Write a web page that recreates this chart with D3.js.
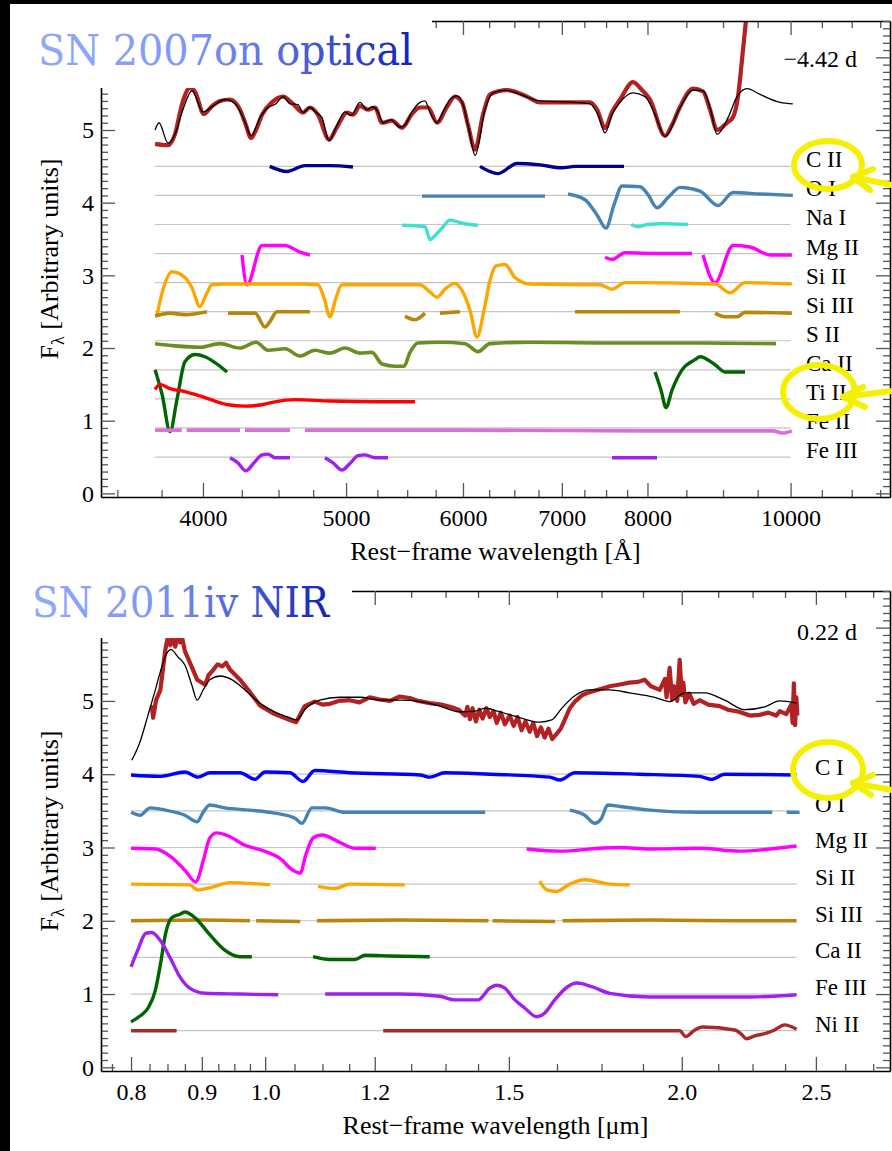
<!DOCTYPE html>
<html><head><meta charset="utf-8">
<script src="https://cdn.jsdelivr.net/npm/d3@7"></script>
<style>body{margin:0;background:#000}svg{display:block}</style>
</head><body>
<svg id="c" width="892" height="1151"></svg>
<script>
// ---------------- DATA: optical panel (SN 2007on) ----------------
const optXTicks = [4000,5000,6000,7000,8000,10000];
const optXLabels = ["4000","5000","6000","7000","8000","10000"];
const optXMinor = [3500,3750,4250,4500,4750,5250,5500,5750,6250,6500,6750,7250,7500,7750,8500,9000,9500,10500,11000,11500];
const yTicks = [0,1,2,3,4,5,6];
const yLabels = ["0","1","2","3","4","5",""];
const optIons = ["C II","O I","Na I","Mg II","Si II","Si III","S II","Ca II","Ti II","Fe II","Fe III"];
const optBase = [4.5,4.1,3.7,3.3,2.9,2.5,2.1,1.7,1.3,0.9,0.5];
const optObs = [[3712,4.81],[3788,4.79],[3829,4.94],[3871,5.35],[3920,5.58],[3950,5.53],[4006,5.22],[4057,5.33],[4107,5.40],[4172,5.42],[4238,5.28],[4277,5.07],[4311,4.89],[4345,5.00],[4386,5.21],[4454,5.38],[4532,5.46],[4603,5.36],[4675,5.24],[4726,5.31],[4786,5.21],[4869,4.87],[4930,5.04],[5007,5.24],[5054,5.21],[5110,5.33],[5174,5.28],[5231,5.31],[5288,5.10],[5371,5.13],[5456,5.03],[5541,5.22],[5611,5.31],[5682,5.31],[5762,5.10],[5852,5.32],[5926,5.46],[5991,5.38],[6047,5.07],[6114,4.73],[6190,5.21],[6258,5.49],[6426,5.55],[6630,5.46],[6766,5.38],[7123,5.38],[7314,5.38],[7395,5.28],[7488,5.03],[7570,5.25],[7665,5.42],[7822,5.66],[7932,5.55],[8032,5.42],[8222,4.92],[8312,5.07],[8417,5.32],[8589,5.57],[8724,5.53],[8820,5.28],[8917,5.00],[9057,5.10],[9142,5.18],[9213,5.46],[9271,5.97],[9329,6.52],[9373,6.93]];
const optModel = [[3712,5.00],[3735,5.10],[3788,4.82],[3829,4.94],[3877,5.28],[3932,5.54],[4000,5.25],[4076,5.35],[4140,5.42],[4205,5.36],[4271,5.11],[4311,4.92],[4372,5.17],[4427,5.31],[4482,5.36],[4532,5.46],[4581,5.36],[4639,5.35],[4675,5.24],[4726,5.31],[4771,5.24],[4816,5.17],[4869,4.85],[4930,5.07],[4992,5.25],[5038,5.20],[5110,5.38],[5166,5.28],[5206,5.32],[5255,5.25],[5296,5.10],[5363,5.14],[5439,5.04],[5481,5.07],[5541,5.25],[5611,5.38],[5655,5.40],[5699,5.24],[5762,5.10],[5816,5.25],[5880,5.42],[5944,5.47],[6000,5.35],[6057,5.00],[6114,4.65],[6210,5.28],[6288,5.51],[6406,5.55],[6558,5.49],[6766,5.40],[7145,5.38],[7314,5.36],[7406,5.21],[7488,4.96],[7570,5.21],[7665,5.38],[7822,5.51],[7970,5.46],[8095,5.21],[8222,4.91],[8417,5.31],[8589,5.55],[8724,5.54],[8820,5.31],[8917,4.94],[9071,5.17],[9199,5.46],[9344,5.57],[9535,5.49],[9837,5.38],[10035,5.36]];
const optCII = [[[4439,4.50],[4560,4.43],[4690,4.51],[4876,4.51],[5054,4.49]],[[6161,4.50],[6337,4.40],[6527,4.54],[6766,4.52],[7000,4.48],[7145,4.50],[7713,4.50]]];
const optOI = [[[5629,4.09],[6819,4.09]],[[7068,4.12],[7258,4.04],[7395,3.83],[7499,3.65],[7593,3.97],[7689,4.23],[7908,4.22],[8007,4.11],[8120,3.93],[8261,4.07],[8417,4.21],[8683,4.16],[8931,3.96],[9142,4.14],[9535,4.12],[10035,4.10]]];
const optNaI = [[[5456,3.69],[5655,3.67],[5699,3.49],[5726,3.52],[5807,3.65],[5880,3.76],[5944,3.74],[6019,3.71],[6142,3.69]],[[7800,3.70],[7880,3.67],[8000,3.70],[8200,3.71],[8520,3.70]]];
const optMgII = [[[4251,3.28],[4284,2.87],[4386,3.41],[4439,3.41],[4546,3.41],[4653,3.32],[4726,3.28]],[[7488,3.25],[7570,3.22],[7725,3.31],[8158,3.30],[8576,3.30]],[[8724,3.28],[8889,2.90],[9142,3.41],[9387,3.39],[9685,3.28],[10020,3.28]]];
const optSiII = [[[3724,2.46],[3758,2.80],[3811,3.05],[3889,2.97],[3932,2.83],[3981,2.57],[4019,2.73],[4057,2.87],[4140,2.88],[4653,2.88],[4786,2.87],[4831,2.69],[4876,2.43],[4922,2.69],[4968,2.87],[5611,2.87],[5699,2.77],[5762,2.70],[5834,2.81],[5926,2.89],[5991,2.79],[6066,2.52],[6133,2.15],[6200,2.52],[6258,2.93],[6317,3.13],[6406,3.15],[6507,2.97],[6661,2.88],[7429,2.87],[7570,2.81],[7725,2.90],[8889,2.88],[9099,2.76],[9314,2.90],[10020,2.88]]];
const optSiIII = [[[3712,2.44],[3800,2.48],[3889,2.46],[4025,2.50]],[[4159,2.48],[4338,2.48],[4406,2.29],[4439,2.36],[4489,2.50],[4726,2.50]],[[5481,2.44],[5567,2.39],[5655,2.48]],[[5789,2.48],[5972,2.50]],[[7145,2.50],[8417,2.50]],[[8889,2.48],[9029,2.43],[9199,2.43],[9314,2.49],[10020,2.48]]];
const optSII = [[[3712,2.06],[3829,2.03],[3981,2.01],[4107,2.06],[4238,2.00],[4345,2.08],[4427,1.97],[4546,1.99],[4653,1.89],[4763,1.97],[4876,1.93],[4992,2.00],[5110,1.93],[5206,1.94],[5288,1.78],[5397,1.75],[5473,1.75],[5524,1.94],[5594,2.07],[5789,2.08],[6019,2.06],[6142,1.95],[6258,2.06],[6661,2.08],[7429,2.07],[8683,2.07],[9776,2.06]]];
const optCaII = [[[3712,1.70],[3753,1.36],[3800,0.85],[3841,1.29],[3889,1.81],[3950,1.91],[4012,1.88],[4076,1.80],[4153,1.67]],[[8095,1.67],[8171,1.42],[8235,1.18],[8312,1.42],[8443,1.70],[8616,1.84],[8683,1.88],[8889,1.77],[9029,1.67],[9314,1.67]]];
const optTiII = [[[3712,1.43],[3741,1.50],[3800,1.44],[3889,1.40],[3981,1.34],[4076,1.27],[4159,1.22],[4271,1.20],[4386,1.22],[4475,1.26],[4617,1.29],[4876,1.27],[5272,1.26],[5567,1.26]]];
const optFeII = [[[3712,0.87],[3870,0.87]],[[3900,0.87],[4238,0.87]],[[4271,0.87],[4581,0.87]],[[4690,0.87],[6000,0.87],[8000,0.86],[9730,0.86],[9880,0.83],[10020,0.86]]];
const optFeIII = [[[4172,0.49],[4224,0.42],[4277,0.31],[4331,0.42],[4386,0.53],[4427,0.54],[4475,0.49],[4581,0.49]],[[4838,0.49],[4899,0.42],[4968,0.32],[5030,0.41],[5094,0.52],[5150,0.53],[5231,0.49],[5338,0.49]],[[7570,0.49],[8120,0.49]]];

// ---------------- DATA: NIR panel (SN 2011iv) ----------------
const nirXTicks = [0.8,0.9,1.0,1.2,1.5,2.0,2.5];
const nirXLabels = ["0.8","0.9","1.0","1.2","1.5","2.0","2.5"];
const nirXMinor = [0.775,0.825,0.85,0.875,0.925,0.95,0.975,1.05,1.1,1.15,1.275,1.35,1.425,1.625,1.75,1.875,2.125,2.25,2.375,2.625,2.75];
const nirIons = ["C I","O I","Mg II","Si II","Si III","Ca II","Fe III","Ni II"];
const nirBase = [4.0,3.5,3.0,2.5,2.0,1.5,1.0,0.5];
const nirObs = [[0.828,4.94],[0.830,4.77],[0.834,5.01],[0.840,5.15],[0.847,5.70],[0.850,5.85],[0.854,5.76],[0.857,5.86],[0.861,5.74],[0.864,5.85],[0.868,5.80],[0.871,5.86],[0.875,5.68],[0.882,5.53],[0.893,5.29],[0.905,5.22],[0.910,5.35],[0.917,5.42],[0.924,5.50],[0.931,5.47],[0.937,5.52],[0.943,5.43],[0.959,5.29],[0.975,5.12],[0.991,4.94],[1.016,4.82],[1.042,4.74],[1.053,4.71],[1.068,4.93],[1.086,4.99],[1.100,4.95],[1.114,4.96],[1.130,5.00],[1.151,5.01],[1.170,4.98],[1.190,5.05],[1.210,5.02],[1.231,5.00],[1.250,5.06],[1.272,5.04],[1.290,5.00],[1.315,4.97],[1.340,4.95],[1.360,4.92],[1.380,4.88],[1.395,4.80],[1.400,4.92],[1.406,4.75],[1.412,4.90],[1.420,4.72],[1.428,4.88],[1.436,4.76],[1.445,4.90],[1.453,4.78],[1.462,4.86],[1.470,4.70],[1.480,4.84],[1.490,4.68],[1.502,4.80],[1.512,4.66],[1.522,4.78],[1.532,4.60],[1.542,4.72],[1.553,4.58],[1.562,4.70],[1.572,4.52],[1.582,4.64],[1.592,4.50],[1.602,4.62],[1.612,4.48],[1.624,4.55],[1.635,4.62],[1.646,4.74],[1.660,4.90],[1.674,4.99],[1.695,5.08],[1.716,5.12],[1.745,5.16],[1.774,5.20],[1.800,5.22],[1.834,5.25],[1.860,5.26],[1.880,5.29],[1.900,5.20],[1.928,5.15],[1.945,5.30],[1.950,5.05],[1.960,5.45],[1.968,5.02],[1.975,5.20],[1.985,5.00],[1.993,5.56],[2.000,5.08],[2.005,5.25],[2.012,4.98],[2.025,5.10],[2.040,4.96],[2.060,5.01],[2.090,4.95],[2.130,4.93],[2.160,4.88],[2.202,4.85],[2.240,4.80],[2.277,4.81],[2.310,4.84],[2.340,4.80],[2.354,4.86],[2.380,4.82],[2.400,4.95],[2.405,4.70],[2.410,5.24],[2.415,4.67],[2.420,5.05],[2.424,4.80]];
const nirModel = [[0.801,4.19],[0.812,4.44],[0.823,4.81],[0.833,5.15],[0.840,5.40],[0.848,5.63],[0.855,5.70],[0.865,5.60],[0.875,5.49],[0.885,5.22],[0.893,5.01],[0.902,5.15],[0.912,5.29],[0.928,5.34],[0.946,5.29],[0.967,5.15],[0.991,4.97],[1.016,4.85],[1.042,4.77],[1.054,4.74],[1.068,4.88],[1.095,5.01],[1.132,5.05],[1.171,5.05],[1.210,5.01],[1.251,5.01],[1.294,4.99],[1.337,4.93],[1.383,4.85],[1.418,4.86],[1.442,4.90],[1.478,4.85],[1.528,4.77],[1.579,4.71],[1.611,4.74],[1.638,4.90],[1.674,5.07],[1.716,5.15],[1.774,5.15],[1.834,5.11],[1.912,5.05],[1.960,4.99],[2.010,5.11],[2.078,5.11],[2.148,5.01],[2.221,4.88],[2.296,4.92],[2.354,5.00],[2.421,4.97]];
const nirCI = [[[0.800,3.99],[0.840,3.97],[0.875,4.03],[0.894,3.96],[0.912,4.02],[0.959,4.02],[0.983,3.93],[1.000,4.03],[1.042,4.02],[1.065,3.90],[1.086,4.05],[1.151,4.02],[1.294,3.99],[1.315,3.96],[1.348,4.02],[1.453,4.00],[1.606,3.96],[1.633,3.92],[1.674,4.02],[1.865,4.00],[2.060,3.97],[2.102,3.93],[2.148,4.00],[2.421,3.99]]];
const nirOI = [[[0.800,3.48],[0.812,3.44],[0.826,3.54],[0.847,3.51],[0.875,3.44],[0.893,3.35],[0.902,3.48],[0.912,3.58],[0.935,3.54],[0.975,3.51],[1.016,3.47],[1.051,3.40],[1.063,3.33],[1.081,3.54],[1.105,3.54],[1.142,3.48],[1.251,3.48],[1.442,3.48]],[[1.660,3.51],[1.702,3.44],[1.730,3.33],[1.750,3.40],[1.768,3.58],[1.804,3.56],[1.896,3.51],[2.060,3.48],[2.325,3.48]],[[2.381,3.48],[2.433,3.48]]];
const nirMgII = [[[0.800,2.99],[0.833,2.98],[0.854,2.88],[0.875,2.69],[0.891,2.53],[0.903,2.85],[0.912,3.13],[0.923,3.20],[0.940,3.16],[0.967,3.03],[0.995,2.96],[1.025,2.85],[1.047,2.69],[1.060,2.65],[1.070,2.90],[1.083,3.13],[1.099,3.17],[1.132,3.07],[1.161,2.99],[1.202,2.99]],[[1.545,2.98],[1.633,2.95],[1.745,2.99],[1.804,3.00],[1.896,2.98],[2.060,2.99],[2.202,2.95],[2.315,2.98],[2.421,3.02]]];
const nirSiII = [[[0.800,2.50],[0.882,2.49],[0.894,2.42],[0.916,2.46],[0.943,2.52],[1.008,2.49]],[[1.092,2.47],[1.123,2.44],[1.151,2.50],[1.261,2.49]],[[1.579,2.54],[1.598,2.42],[1.624,2.40],[1.660,2.50],[1.702,2.56],[1.774,2.50],[1.834,2.49]]];
const nirSiIII = [[[0.800,2.00],[0.900,2.01],[0.975,2.00]],[[0.985,2.00],[1.060,1.99]],[[1.090,2.00],[1.250,2.01],[1.450,2.00]],[[1.460,2.00],[1.620,1.99]],[[1.640,2.00],[1.900,2.01],[2.200,2.00],[2.421,2.00]]];
const nirCaII = [[[0.800,0.62],[0.812,0.70],[0.823,0.81],[0.833,1.05],[0.840,1.40],[0.847,1.81],[0.856,2.04],[0.868,2.09],[0.875,2.12],[0.890,2.04],[0.912,1.81],[0.935,1.60],[0.959,1.51],[0.978,1.51]],[[1.083,1.51],[1.114,1.47],[1.161,1.47],[1.181,1.53],[1.231,1.52],[1.315,1.51]]];
const nirFeIII = [[[0.800,1.37],[0.809,1.60],[0.820,1.83],[0.828,1.84],[0.840,1.73],[0.854,1.49],[0.868,1.23],[0.882,1.08],[0.905,1.01],[0.959,1.00],[1.022,0.99]],[[1.105,1.00],[1.251,1.00],[1.337,0.97],[1.371,0.92],[1.425,0.92],[1.453,1.08],[1.470,1.12],[1.490,1.08],[1.515,0.92],[1.540,0.81],[1.571,0.69],[1.592,0.74],[1.619,0.92],[1.654,1.10],[1.680,1.15],[1.722,1.10],[1.774,1.01],[1.896,0.96],[2.060,0.96],[2.239,0.96],[2.421,0.99]]];
const nirNiII = [[[0.800,0.50],[0.863,0.50]],[[1.217,0.50],[1.478,0.50],[1.745,0.50],[1.993,0.50],[2.013,0.42],[2.044,0.51],[2.071,0.55],[2.184,0.51],[2.209,0.45],[2.228,0.39],[2.258,0.43],[2.296,0.46],[2.334,0.51],[2.373,0.58],[2.421,0.52]]];

// ---------------- STYLES / LAYOUT ----------------
const ionColor = {"C II":"#00008b","C I":"#0000ff","O I":"#4682b4","Na I":"#40e0d0","Mg II":"#ff00ff","Si II":"#ffa500","Si III":"#b8860b","S II":"#6b8e23","Ca II":"#006400","Ti II":"#ff0000","Fe II":"#da70d6","Fe III":"#a020f0","Ni II":"#a52a2a"};
const SERIF = "'Liberation Serif','Times New Roman',serif";
const svg = d3.select("#c");
svg.append("rect").attr("width",892).attr("height",1151).attr("fill","#000");
svg.append("rect").attr("x",10).attr("y",4).attr("width",882).attr("height",557).attr("fill","#fff");
svg.append("rect").attr("x",10).attr("y",561).attr("width",882).attr("height",590).attr("fill","#fff");
const defs = svg.append("defs");

function drawPanel(p){
  const x = d3.scaleLog().domain(p.xDomain).range([p.l,p.r]);
  const y = d3.scaleLinear().domain([-0.05,6.5]).range([p.b,p.t]);
  defs.append("clipPath").attr("id","clip"+p.id).append("rect")
    .attr("x",p.l).attr("y",p.t).attr("width",p.r-p.l).attr("height",p.b-p.t);
  const g = svg.append("g");
  const dg = g.append("g").attr("clip-path",`url(#clip${p.id})`);
  const smooth = d3.line().x(d=>x(d[0])).y(d=>y(d[1])).curve(d3.curveMonotoneX);
  const lin = d3.line().x(d=>x(d[0])).y(d=>y(d[1]));
  // gray reference lines
  p.base.forEach(b=>{
    dg.append("line").attr("x1",x(p.grayRange[0])).attr("x2",x(p.grayRange[1]))
      .attr("y1",y(b)).attr("y2",y(b)).attr("stroke","#c4c4c4").attr("stroke-width",1.2);
  });
  // ion contributions
  p.ions.forEach((name,i)=>{
    p.ionData[i].forEach(seg=>{
      dg.append("path").attr("d",smooth(seg)).attr("fill","none")
        .attr("stroke",ionColor[name]).attr("stroke-width",(name==="Fe II"||name==="Si III"||name==="S II")?3.6:3.4)
        .attr("stroke-linejoin","round").attr("stroke-linecap","butt");
    });
  });
  // observed + model
  dg.append("path").attr("d",(p.id==="b"?lin:smooth)(p.obs)).attr("fill","none")
    .attr("stroke","#b22222").attr("stroke-width",4.2).attr("stroke-linejoin","round");
  dg.append("path").attr("d",smooth(p.model)).attr("fill","none")
    .attr("stroke","#000").attr("stroke-width",1.3);
  // ion labels
  p.ions.forEach((name,i)=>{
    g.append("text").attr("x",p.labelX).attr("y",y(p.base[i])+1)
      .attr("font-family",SERIF).attr("font-size",23).attr("fill","#000").text(name);
  });
  // axes
  function styleAxis(sel){
    sel.select(".domain").attr("stroke","#000").attr("stroke-width",1.6);
    sel.selectAll(".tick line").attr("stroke","#555").attr("stroke-width",1.3);
    sel.selectAll(".tick text").attr("font-family",SERIF).attr("font-size",24).attr("fill","#000");
  }
  const ax = g.append("g");
  ax.append("g").attr("transform",`translate(0,${p.b})`)
    .call(d3.axisBottom(x).tickValues(p.xMinor).tickSize(-7).tickFormat("").tickSizeOuter(0))
    .call(s=>s.select(".domain").remove()).call(styleAxis);
  ax.append("g").attr("transform",`translate(0,${p.t})`)
    .call(d3.axisTop(x).tickValues(p.xMinor).tickSize(-7).tickFormat("").tickSizeOuter(0))
    .call(s=>s.select(".domain").remove()).call(styleAxis);
  ax.append("g").attr("transform",`translate(0,${p.b})`)
    .call(d3.axisBottom(x).tickValues(p.xTicks).tickFormat((d,i)=>p.xLabels[i]).tickSize(-14).tickPadding(12).tickSizeOuter(0))
    .call(styleAxis);
  ax.append("g").attr("transform",`translate(0,${p.t})`)
    .call(d3.axisTop(x).tickValues(p.xTicks).tickFormat("").tickSize(-14).tickSizeOuter(0))
    .call(styleAxis);
  const yMinor = d3.range(0,66).map(i=>i/10).filter(v=>Math.abs(v-Math.round(v))>1e-6);
  ax.append("g").attr("transform",`translate(${p.l},0)`)
    .call(d3.axisLeft(y).tickValues(yMinor).tickSize(-7).tickFormat("").tickSizeOuter(0))
    .call(s=>s.select(".domain").remove()).call(styleAxis);
  ax.append("g").attr("transform",`translate(${p.r},0)`)
    .call(d3.axisRight(y).tickValues(yMinor).tickSize(-7).tickFormat("").tickSizeOuter(0))
    .call(s=>s.select(".domain").remove()).call(styleAxis);
  ax.append("g").attr("transform",`translate(${p.l},0)`)
    .call(d3.axisLeft(y).tickValues(yTicks).tickFormat((d,i)=>yLabels[i]).tickSize(-14).tickPadding(7).tickSizeOuter(0))
    .call(styleAxis);
  ax.append("g").attr("transform",`translate(${p.r},0)`)
    .call(d3.axisRight(y).tickValues(yTicks).tickFormat("").tickSize(-14).tickSizeOuter(0))
    .call(styleAxis);
  // axis titles
  g.append("text").attr("x",(p.l+p.r)/2).attr("y",p.b+63).attr("text-anchor","middle")
    .attr("font-family",SERIF).attr("font-size",26).text(p.xTitle);
  const yt = g.append("text").attr("transform",`translate(58,${(p.t+p.b)/2}) rotate(-90)`)
    .attr("text-anchor","middle").attr("font-family",SERIF).attr("font-size",26);
  yt.append("tspan").text("F");
  yt.append("tspan").attr("font-size",18).attr("dy",6).text("λ");
  yt.append("tspan").attr("dy",-6).text(" [Arbitrary units]");
  // epoch
  g.append("text").attr("x",857).attr("y",p.epochY).attr("text-anchor","end")
    .attr("font-family",SERIF).attr("font-size",24).text(p.epoch);
  // title box
  g.append("rect").attr("x",10).attr("y",p.boxY).attr("width",p.boxW).attr("height",p.boxH).attr("fill","#fff");
  const gid = "grad"+p.id;
  const gr = defs.append("linearGradient").attr("id",gid).attr("gradientUnits","userSpaceOnUse")
    .attr("x1",p.titleX).attr("x2",p.titleX+p.titleW).attr("y1",0).attr("y2",0);
  [[0,"#8eaaff"],[0.4,"#7f98f6"],[0.62,"#5c70e2"],[1,"#0f23b3"]].forEach(s=>gr.append("stop").attr("offset",s[0]).attr("stop-color",s[1]));
  g.append("text").attr("x",p.titleX).attr("y",p.titleY).attr("font-family","'DejaVu Serif',serif")
    .attr("font-size",42).attr("textLength",p.titleW).attr("lengthAdjust","spacingAndGlyphs")
    .attr("fill",`url(#${gid})`).text(p.title);
}

drawPanel({id:"t",l:101,r:890,t:21,b:497,xDomain:[3412,11677],grayRange:[3712,10000],
  xTicks:optXTicks,xLabels:optXLabels,xMinor:optXMinor,
  ions:optIons,base:optBase,ionData:[optCII,optOI,optNaI,optMgII,optSiII,optSiIII,optSII,optCaII,optTiII,optFeII,optFeIII],
  obs:optObs,model:optModel,labelX:806,xTitle:"Rest\u2212frame wavelength [\u00c5]",
  epoch:"\u22124.42 d",epochY:67,boxY:4,boxW:422,boxH:84,title:"SN 2007on optical",titleX:38,titleY:65,titleW:375});
drawPanel({id:"b",l:101,r:890,t:591,b:1071,xDomain:[0.761,2.828],grayRange:[0.8,2.421],
  xTicks:nirXTicks,xLabels:nirXLabels,xMinor:nirXMinor,
  ions:nirIons,base:nirBase,ionData:[nirCI,nirOI,nirMgII,nirSiII,nirSiIII,nirCaII,nirFeIII,nirNiII],
  obs:nirObs,model:nirModel,labelX:815,xTitle:"Rest\u2212frame wavelength [\u03bcm]",
  epoch:"0.22 d",epochY:640,boxY:561,boxW:342,boxH:77,title:"SN 2011iv NIR",titleX:32,titleY:617,titleW:297});

// ---------------- yellow highlight annotations ----------------
const marks = [
  {cx:828,cy:165,rx:34,ry:24,tip:[853,177],a1:[873,169],a2:[870,190],end:[892,185]},
  {cx:819,cy:392,rx:36,ry:27,tip:[843,397],a1:[863,387],a2:[865,407],end:[892,391]},
  {cx:828,cy:770,rx:35,ry:28,tip:[853,783],a1:[873,775],a2:[871,795],end:[892,790]}
];
const ann = svg.append("g").attr("fill","none").attr("stroke","#f4f000").attr("stroke-width",6).attr("stroke-linecap","round");
marks.forEach(m=>{
  ann.append("ellipse").attr("cx",m.cx).attr("cy",m.cy).attr("rx",m.rx).attr("ry",m.ry);
  ann.append("path").attr("d",d3.line()([m.end,m.tip]));
  ann.append("path").attr("d",d3.line()([m.a1,m.tip,m.a2])).attr("stroke-linejoin","round");
});
</script>
</body></html>
